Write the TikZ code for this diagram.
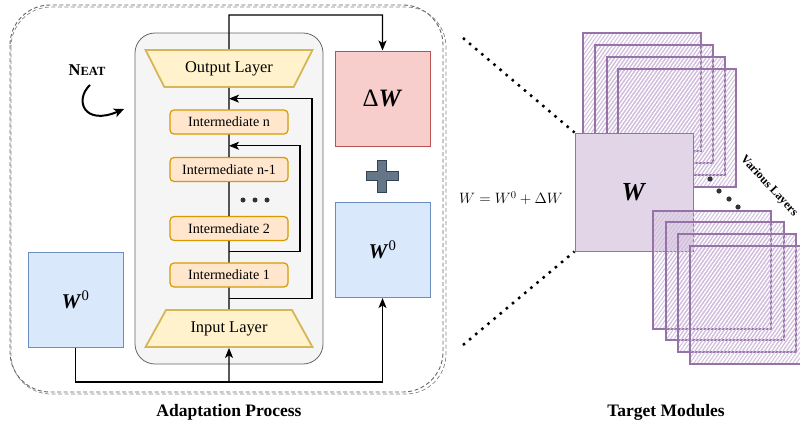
\RequirePackage{fix-cm}
\documentclass[tikz,border=0pt]{standalone}
\usepackage{amsmath}
\usepackage[no-math]{fontspec}
\setmainfont{Liberation Serif}
\usepackage{tikz}
\usetikzlibrary{positioning,calc,shapes.geometric,arrows.meta,patterns.meta}

\definecolor{netfill}{HTML}{F5F5F5}
\definecolor{netline}{HTML}{666666}
\definecolor{layerfill}{HTML}{FFF2CC}
\definecolor{layerline}{HTML}{D6B656}
\definecolor{interfill}{HTML}{FFE6CC}
\definecolor{interline}{HTML}{D79B00}
\definecolor{bluefill}{HTML}{DAE8FC}
\definecolor{blueline}{HTML}{6C8EBF}
\definecolor{redfill}{HTML}{F8CECC}
\definecolor{redline}{HTML}{B85450}
\definecolor{wfill}{HTML}{E1D5E7}
\definecolor{wline}{HTML}{9673A6}
\definecolor{hatch}{HTML}{D2C0DE}
\definecolor{plusfill}{HTML}{647687}
\definecolor{plusline}{HTML}{314354}
\definecolor{dotc}{HTML}{333333}

\begin{document}
\begin{tikzpicture}[x=1pt,y=-1pt,
    netbox/.style={draw=netline,fill=netfill,rounded corners=20pt,line width=0.8pt},
    layer/.style={trapezium,trapezium stretches=true,trapezium left angle=57,trapezium right angle=57,
        minimum width=167pt,minimum height=37pt,draw=layerline,fill=layerfill,line width=1.8pt,
        font=\fontsize{16.4}{18}\selectfont},
    inter/.style={draw=interline,fill=interfill,rounded corners=4pt,line width=1.2pt,
        minimum width=118pt,minimum height=24pt,font=\fontsize{14.1}{16}\selectfont},
    mat/.style={minimum size=95pt,line width=1pt,font=\fontsize{21}{24}\selectfont},
    link/.style={line width=1.2pt},
    arr/.style={line width=1.2pt,-{Stealth[length=10pt,width=8pt,inset=2.5pt]}},
    stack/.style={draw=wline,line width=1.5pt,pattern={Lines[angle=55,distance=3pt,line width=1pt]},pattern color=hatch},
    dotline/.style={line width=2.5pt,dash pattern=on 2.5pt off 5.5pt},
    title/.style={font=\bfseries\fontsize{17.5}{20}\selectfont}]
\useasboundingbox (0,0) rectangle (800,423);

% adaptation process
\draw[netline,line width=0.9pt,dash pattern=on 4pt off 2.5pt,rounded corners=40pt] (10,5) rectangle (443,392);
\draw[netline!80,line width=0.7pt,dash pattern=on 4pt off 2.5pt,rounded corners=40pt] (11,7) rectangle (446,394);

\node[netbox,minimum width=188pt,minimum height=331pt] (net) at (229,198.5) {};
\node[layer,shape border rotate=180] (out) at (229,68.5) {Output Layer};
\node[inter] (imn) at (229,122) {Intermediate n};
\node[inter] (imm) at (229,169.5) {Intermediate n-1};
\node[inter] (imb) at (229,228.5) {Intermediate 2};
\node[inter] (ima) at (229,275) {Intermediate 1};
\node[layer] (inp) at (229,328.5) {Input Layer};
\foreach \x in {243,255,267} \fill[dotc] (\x,200) circle (2.5pt);

\draw[link] (out) -- (imn) -- (imm) -- (imb) -- (ima) -- (inp);
\coordinate (fa) at ($(ima.south)!0.5!(inp.north)$);
\coordinate (fae) at ($(out.south)!0.5!(imn.north)$);
\coordinate (fb) at ($(imb.south)!0.5!(ima.north)$);
\coordinate (fbe) at ($(imn.south)!0.5!(imm.north)$);
\draw[arr] (fa) -- ++(83,0) |- (fae);
\draw[arr] (fb) -- ++(71,0) |- (fbe);

\node[mat,draw=redline,fill=redfill,font=\fontsize{25}{28}\selectfont] (dw) at (382.5,98.5) {Δ\textbf{\textit{W}}};
\node[mat,draw=blueline,fill=bluefill] (w0r) at (382.5,250) {\textbf{\textit{W}}\textsuperscript{0}};
\node[mat,draw=blueline,fill=bluefill] (w0l) at (75.5,299.5) {\textbf{\textit{W}}\textsuperscript{0}};
\draw[plusline,fill=plusfill,line width=1pt,shift={(382,176)}] (-4.5,-16) -- (4.5,-16) -- (4.5,-4.5) -- (16,-4.5) -- (16,4.5) -- (4.5,4.5)
    -- (4.5,16) -- (-4.5,16) -- (-4.5,4.5) -- (-16,4.5) -- (-16,-4.5) -- (-4.5,-4.5) -- cycle;

\coordinate (top) at (229,15);
\coordinate (bot) at (229,382);
\draw[arr] (out.north) -- (top) -| (dw.north);
\draw[link] (w0l.south) |- (bot);
\draw[arr] (bot) -- (inp.south);
\draw[arr] (bot) -| (w0r.south);

\node[font=\bfseries] (neat) at (87,70) {\fontsize{16.5}{18}\selectfont N\fontsize{12.5}{14}\selectfont EAT};
\coordinate (neatend) at (124,109);
\draw[line width=2pt,-{Stealth[length=10pt,width=9pt,inset=2.5pt]}] ([xshift=3pt,yshift=-6pt]neat.south) .. controls (74,100) and (84,126) .. (neatend);

\node[title] (adapt) at (229,412) {Adaptation Process};

% target modules
\foreach \x/\y in {583/33,595/45,607/57,618/69} \draw[stack] (\x,\y) rectangle ++(118,118);
\node[draw=wline,fill=wfill,line width=1pt,minimum size=118pt,font=\fontsize{26}{28}\selectfont] (W) at (634,192) {\textbf{\textit{W}}};
\foreach \x/\y in {653/211,666/222,678/234,690/246} \draw[stack] (\x,\y) rectangle ++(118,118);

\coordinate (tl) at (463,38);
\coordinate (bl) at (463,345);
\draw[dotline] (tl) -- (W.north west);
\draw[dotline] (bl) -- (W.south west);
\node[font=\fontsize{15}{18}\selectfont] (eq) at (511,198) {$W = W^0 + \Delta W$};

\foreach \p in {(710,179),(719,191),(729,199),(738,207)} \fill[dotc] \p circle (2.6pt);
\node[font=\bfseries\fontsize{12}{14}\selectfont,rotate=-47] (various) at (769,186) {Various Layers};

\node[title] (target) at (666,412) {Target Modules};
\end{tikzpicture}
\end{document}
